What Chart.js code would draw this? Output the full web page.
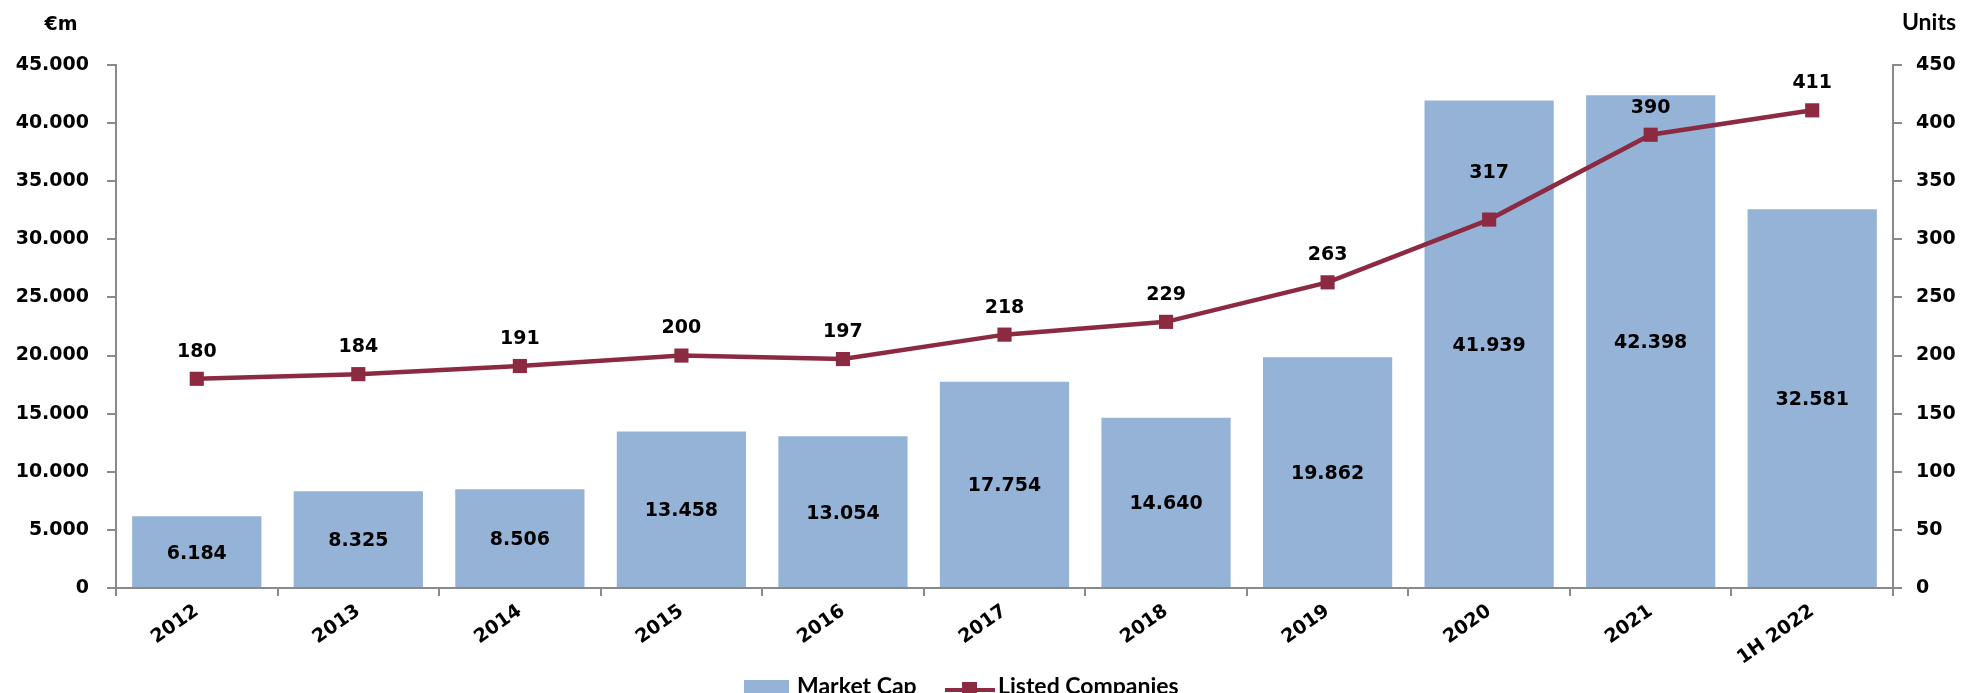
<!DOCTYPE html>
<html>
<head>
<meta charset="utf-8">
<script src="https://cdn.jsdelivr.net/npm/chart.js@4.4.1/dist/chart.umd.min.js"></script>
<style>
  html, body { margin: 0; padding: 0; background: #fff; }
  #wrap { width: 1978px; height: 693px; }
</style>
</head>
<body>
<div id="wrap"><canvas id="chart" width="1978" height="693"></canvas></div>
<script>
// chart data
const years = ['2012', '2013', '2014', '2015', '2016', '2017', '2018', '2019', '2020', '2021', '1H 2022'];
const marketCap = [6184, 8325, 8506, 13458, 13054, 17754, 14640, 19862, 41939, 42398, 32581];
const listedCompanies = [180, 184, 191, 200, 197, 218, 229, 263, 317, 390, 411];

const BAR_COLOR = '#95B3D7';
const LINE_COLOR = '#8C2A42';
const AXIS_COLOR = '#8A8A8A';
const TICK_FONT = { family: 'DejaVu Sans', size: 19, weight: 'bold' };

// the 2020 label sits higher in the original (moved by hand)
const lineLabelNudge = { 8: [0, -20] };

function fmtDot(v) {
  return String(Math.round(v)).replace(/\B(?=(\d{3})+(?!\d))/g, '.');
}

const labelsPlugin = {
  id: 'valueLabels',
  afterDatasetsDraw(chart) {
    const ctx = chart.ctx;
    ctx.save();
    ctx.font = 'bold 19px "DejaVu Sans"';
    ctx.fillStyle = '#000';
    ctx.textAlign = 'center';
    ctx.textBaseline = 'middle';
    chart.data.datasets.forEach((ds, di) => {
      const meta = chart.getDatasetMeta(di);
      meta.data.forEach((el, i) => {
        if (ds.type === 'bar') {
          ctx.fillText(fmtDot(ds.data[i]), el.x, (el.y + el.base) / 2 + 2);
        } else {
          const n = lineLabelNudge[i] || [0, 0];
          ctx.fillText(fmtDot(ds.data[i]), el.x + n[0], el.y - 27 + n[1]);
        }
      });
    });
    ctx.restore();
  },
  afterDraw(chart) {
    const ctx = chart.ctx;
    ctx.save();
    // axis titles
    ctx.fillStyle = '#000';
    ctx.textBaseline = 'middle';
    ctx.textAlign = 'center';
    ctx.font = 'bold 19px "DejaVu Sans"';
    ctx.fillText('€m', 61, 25);
    ctx.font = 'bold 23px Lato';
    ctx.fillText('Units', 1929, 23);

    // legend
    const baseY = 687;
    ctx.font = 'bold 23px Lato';
    ctx.textAlign = 'left';
    ctx.textBaseline = 'middle';
    ctx.fillStyle = BAR_COLOR;
    ctx.fillRect(744, 680, 45, 14);
    ctx.fillStyle = '#000';
    ctx.fillText('Market Cap', 797, baseY);

    ctx.strokeStyle = LINE_COLOR;
    ctx.lineWidth = 4;
    ctx.beginPath();
    ctx.moveTo(945, 690);
    ctx.lineTo(995, 690);
    ctx.stroke();
    ctx.fillStyle = LINE_COLOR;
    ctx.fillRect(962, 682, 15, 15);
    ctx.fillStyle = '#000';
    ctx.fillText('Listed Companies', 998, baseY);
    ctx.restore();
  }
};

const chart = new Chart(document.getElementById('chart'), {
  data: {
    labels: years,
    datasets: [
      {
        type: 'line',
        label: 'Listed Companies',
        data: listedCompanies,
        yAxisID: 'y1',
        borderColor: LINE_COLOR,
        backgroundColor: LINE_COLOR,
        borderWidth: 4.5,
        pointStyle: 'rect',
        pointRadius: 10,
        pointBackgroundColor: LINE_COLOR,
        pointBorderColor: LINE_COLOR,
        pointBorderWidth: 0,
        tension: 0,
        order: 1
      },
      {
        type: 'bar',
        label: 'Market Cap',
        data: marketCap,
        yAxisID: 'y',
        backgroundColor: BAR_COLOR,
        borderWidth: 0,
        categoryPercentage: 0.8,
        barPercentage: 1,
        order: 2
      }
    ]
  },
  options: {
    responsive: false,
    animation: false,
    layout: { padding: { top: 65, left: 0, right: 0, bottom: 0 } },
    plugins: {
      legend: { display: false },
      tooltip: { enabled: false }
    },
    scales: {
      x: {
        offset: true,
        grid: { display: true, offset: true, drawOnChartArea: false, drawTicks: true, tickLength: 8, color: AXIS_COLOR, lineWidth: 2 },
        border: { display: true, color: AXIS_COLOR, width: 2 },
        ticks: { font: TICK_FONT, color: '#000', minRotation: 35, maxRotation: 35, padding: 4 },
        afterFit: s => { s.height = 105; }
      },
      y: {
        position: 'left',
        min: 0, max: 45000,
        ticks: { stepSize: 5000, font: TICK_FONT, color: '#000', padding: 18, callback: v => fmtDot(v) },
        grid: { display: true, drawOnChartArea: false, drawTicks: true, tickLength: 9, color: AXIS_COLOR, lineWidth: 2 },
        border: { display: true, color: AXIS_COLOR, width: 2 },
        afterFit: s => { s.width = 116; }
      },
      y1: {
        position: 'right',
        min: 0, max: 450,
        ticks: { stepSize: 50, font: TICK_FONT, color: '#000', padding: 14, callback: v => v },
        grid: { display: true, drawOnChartArea: false, drawTicks: true, tickLength: 9, color: AXIS_COLOR, lineWidth: 2 },
        border: { display: true, color: AXIS_COLOR, width: 2 },
        afterFit: s => { s.width = 85; }
      }
    }
  },
  plugins: [labelsPlugin]
});
</script>
</body>
</html>
